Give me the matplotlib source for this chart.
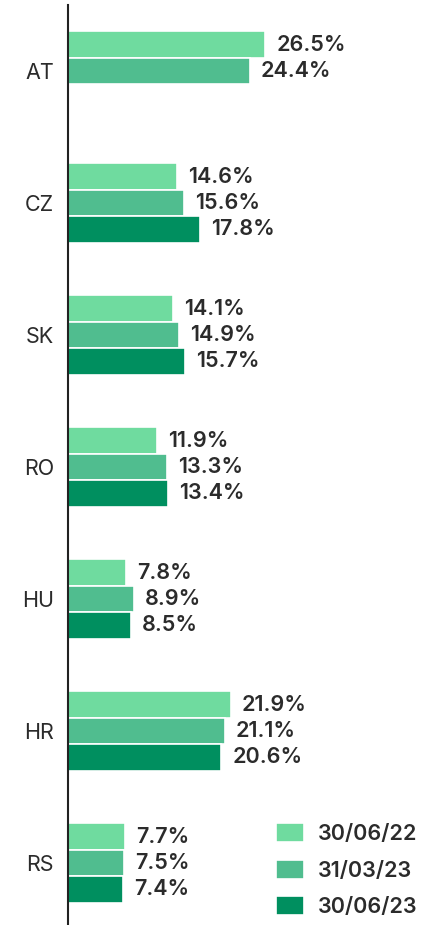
import matplotlib.pyplot as plt
import numpy as np

plt.rcParams['font.family'] = ['Inter', 'DejaVu Sans']

countries = ['AT', 'CZ', 'SK', 'RO', 'HU', 'HR', 'RS']
dates = ['30/06/22', '31/03/23', '30/06/23']
jun22 = [26.5, 14.6, 14.1, 11.9, 7.8, 21.9, 7.7]
mar23 = [24.4, 15.6, 14.9, 13.3, 8.9, 21.1, 7.5]
jun23 = [None, 17.8, 15.7, 13.4, 8.5, 20.6, 7.4]
colors = ['#6fdb9f', '#50bd8f', '#008f5f']

fig = plt.figure(figsize=(4.4, 9.25), dpi=100)
ax = fig.add_axes([68 / 440, 0, 1 - 68 / 440, 1 - 5 / 925])

y = np.arange(len(countries))
h = 0.2
series = [jun22, mar23, jun23]
for k, vals in enumerate(series):
    off = (k - 1) * h
    idx = [i for i, v in enumerate(vals) if v is not None]
    v = [vals[i] for i in idx]
    bars = ax.barh(y[idx] + off, v, height=h, color=colors[k],
                   edgecolor='white', linewidth=1.2, label=dates[k])
    ax.bar_label(bars, labels=[f'{x}%' for x in v], padding=8,
                 fontsize=15.5, fontweight=600, color='#2b2b2b')

ax.set_ylim(6.47, -0.5)
ax.set_xlim(0, 50)
ax.set_yticks(y)
ax.set_yticklabels(countries, fontsize=15.5, color='#2b2b2b')
ax.tick_params(axis='y', length=0, pad=10)
ax.set_xticks([])
for s in ['top', 'right', 'bottom']:
    ax.spines[s].set_visible(False)
ax.spines['left'].set_linewidth(1.5)
ax.spines['left'].set_color('#222222')

fig.legend(loc='upper left', bbox_to_anchor=(276 / 440, 1 - 823 / 925),
           frameon=False, prop={'size': 15.5, 'weight': 600},
           handlelength=1.3, handleheight=1.0,
           handletextpad=0.65, labelspacing=0.72, borderpad=0, borderaxespad=0,
           labelcolor='#2b2b2b')

fig.savefig('out.png', dpi=100)
